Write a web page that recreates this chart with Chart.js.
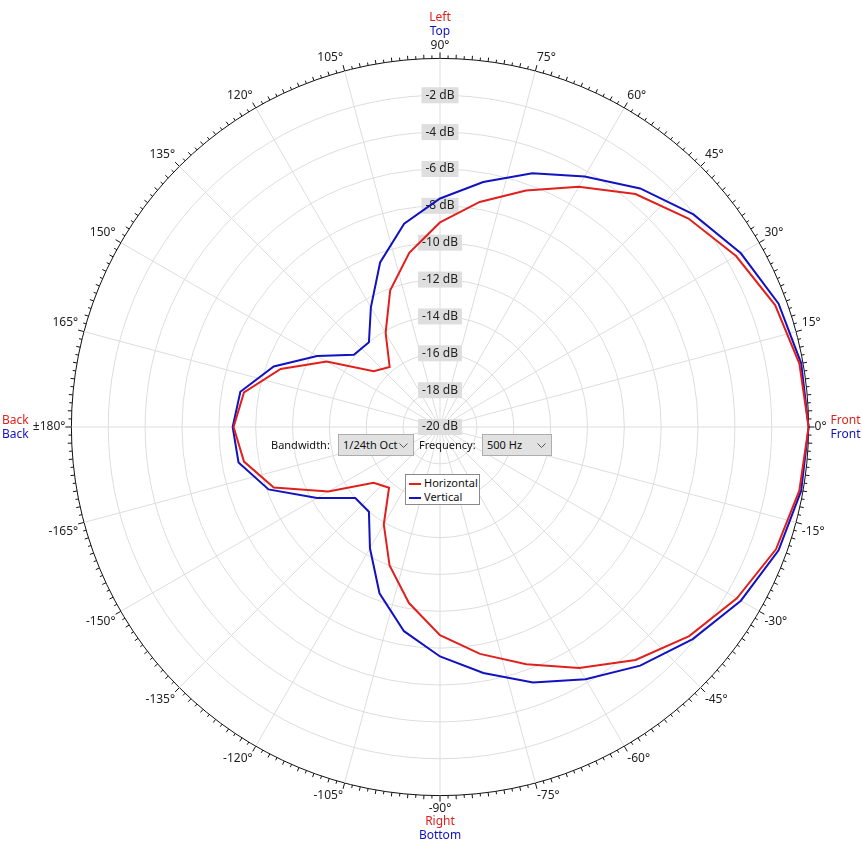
<!DOCTYPE html>
<html>
<head>
<meta charset="utf-8">
<script src="https://cdn.jsdelivr.net/npm/chart.js@4"></script>
<style>
  body { margin: 0; background: #fff; font-family: "Noto Sans", sans-serif; font-size: 11px; color: #111; }
  #wrap { position: relative; width: 862px; height: 846px; }
  .lbl { position: absolute; line-height: 22px; }
  .sel { position: absolute; height: 20px; line-height: 20px; background: #e1e1e1; border: 1px solid #adadad; padding-left: 4px; box-sizing: content-box; white-space: nowrap; }
  .sel svg { position: absolute; right: 5px; top: 8px; }
  #legend { position: absolute; left: 405px; top: 474px; width: 75px; height: 31px; border: 1px solid #8a8a8a; background: #fff; padding: 1px 0 0 3px; box-sizing: border-box; }
  #legend div { height: 14px; line-height: 14px; white-space: nowrap; }
  #legend span { display: inline-block; width: 12px; height: 2px; vertical-align: middle; margin-right: 3px; }
</style>
</head>
<body>
<div id="wrap">
  <canvas id="polar" width="862" height="846"></canvas>
  <div class="lbl" style="left:271px; top:434px;">Bandwidth:</div>
  <div class="sel" style="left:338px; top:434px; width:70px;">1/24th Oct<svg width="9" height="6"><polyline points="0.5,0.5 4.5,4.5 8.5,0.5" fill="none" stroke="#555"/></svg></div>
  <div class="lbl" style="left:419px; top:434px;">Frequency:</div>
  <div class="sel" style="left:482px; top:434px; width:64px;">500 Hz<svg width="9" height="6"><polyline points="0.5,0.5 4.5,4.5 8.5,0.5" fill="none" stroke="#555"/></svg></div>
  <div id="legend"></div>
</div>
<script>
// measured directions, degrees
const measuredAngles = [0, 10, 20, 30, 40, 50, 60, 70, 80, 90, 100, 110, 120, 130, 140, 150, 160, 170, 180,
  -170, -160, -150, -140, -130, -120, -110, -100, -90, -80, -70, -60, -50, -40, -30, -20, -10];

// level in dB for each direction
const horizontal = [0, -0.2, -0.65, -1.45, -2.4, -3.5, -4.95, -6.35, -7.6, -8.9, -10.4, -12.1, -14.1, -15.75, -15.3, -12.9, -10.8, -9.2, -8.8,
  -9.2, -10.4, -13.0, -15.3, -15.7, -13.9, -12.0, -10.3, -8.7, -7.5, -6.3, -4.9, -3.5, -2.35, -1.4, -0.6, -0.2];
const vertical = [0, -0.1, -0.45, -1.15, -2.05, -3.1, -4.3, -5.35, -6.5, -7.6, -8.8, -10.5, -12.5, -14.0, -13.9, -12.3, -10.4, -9.0, -8.75,
  -8.9, -10.1, -12.3, -14.0, -14.0, -12.4, -10.4, -8.75, -7.55, -6.45, -5.25, -4.2, -3.1, -2.1, -1.15, -0.45, -0.1];

const seriesNames = ["Horizontal", "Vertical"];
const seriesColors = ["#e0201c", "#1212c0"];

// labelled directions on the rim
const angleTicks = [90, 75, 60, 45, 30, 15, 0, -15, -30, -45, -60, -75, -90, -105, -120, -135, -150, -165, 180, 165, 150, 135, 120, 105];

// rim words: [angle, first word (red), second word (blue)]
const rimWords = [[90, "Left", "Top"], [-90, "Right", "Bottom"], [0, "Front", "Front"], [180, "Back", "Back"]];

// the scale goes clockwise from the top in 5 degree steps
const scaleAngles = [];
for (let a = 90; a > -270; a -= 5) {
    scaleAngles.push(a <= -180 ? a + 360 : a);
}

function seriesOnScale(values) {
    return scaleAngles.map(a => {
        const i = measuredAngles.indexOf(a);
        return i >= 0 ? values[i] : null;
    });
}

const fontFamily = '"Noto Sans", sans-serif';

const rimPlugin = {
    id: "rim",
    afterDraw(chart) {
        const r = chart.scales.r;
        const ctx = chart.ctx;
        const cx = r.xCenter, cy = r.yCenter, R = r.drawingArea;
        ctx.save();
        // small ticks round the outer circle
        ctx.strokeStyle = "#111";
        ctx.lineWidth = 1;
        ctx.beginPath();
        for (let k = 0; k < 288; k++) {
            const deg = k * 1.25;
            const len = deg % 15 === 0 ? 6 : (k % 2 === 0 ? 4 : 3);
            const t = deg * Math.PI / 180;
            ctx.moveTo(cx + R * Math.cos(t), cy - R * Math.sin(t));
            ctx.lineTo(cx + (R + len) * Math.cos(t), cy - (R + len) * Math.sin(t));
        }
        ctx.stroke();

        ctx.font = "12px " + fontFamily;
        ctx.textBaseline = "middle";
        rimWords.forEach(([a, w1, w2]) => {
            let x = cx, y1, y2;
            ctx.textAlign = "center";
            if (a === 90) { y1 = cy - R - 41; y2 = cy - R - 27; }
            else if (a === -90) { y1 = cy + R + 26; y2 = cy + R + 40; }
            else if (a === 0) { x = cx + R + 22; y1 = cy - 6; y2 = cy + 8; ctx.textAlign = "left"; }
            else { x = 2; y1 = cy - 6; y2 = cy + 8; ctx.textAlign = "left"; }
            ctx.fillStyle = seriesColors[0];
            ctx.fillText(w1, x, y1);
            ctx.fillStyle = seriesColors[1];
            ctx.fillText(w2, x, y2);
        });
        ctx.restore();
    }
};

const chart = new Chart(document.getElementById("polar"), {
    type: "radar",
    data: {
        labels: scaleAngles,
        datasets: [
            {
                label: seriesNames[0],
                data: seriesOnScale(horizontal),
                borderColor: seriesColors[0],
                borderWidth: 2,
                fill: false,
                spanGaps: true,
                pointRadius: 0,
                tension: 0
            },
            {
                label: seriesNames[1],
                data: seriesOnScale(vertical),
                borderColor: seriesColors[1],
                borderWidth: 2,
                fill: false,
                spanGaps: true,
                pointRadius: 0,
                tension: 0
            }
        ]
    },
    options: {
        responsive: false,
        animation: false,
        layout: { padding: { top: 38, bottom: 29, left: 18, right: 0 } },
        plugins: {
            legend: { display: false },
            tooltip: { enabled: false }
        },
        scales: {
            r: {
                min: -20,
                max: 0,
                startAngle: 0,
                grid: {
                    circular: true,
                    color: (c) => c.tick && c.tick.value === 0 ? "#111" : "#dddddd",
                    lineWidth: 1
                },
                angleLines: {
                    color: "#dddddd",
                    lineWidth: (c) => angleTicks.includes(scaleAngles[c.index]) ? 1 : 0
                },
                ticks: {
                    stepSize: 2,
                    color: (c) => c.tick && c.tick.value === 0 ? "rgba(0,0,0,0)" : "#222",
                    font: { family: fontFamily, size: 12 },
                    showLabelBackdrop: true,
                    backdropColor: (c) => c.tick && c.tick.value === 0 ? "rgba(0,0,0,0)" : "#dedede",
                    backdropPadding: { x: 4, y: 2 },
                    callback: (v) => v === 0 ? "" : v + " dB"
                },
                pointLabels: {
                    // chart.js adds half the tick backdrop height, take some of it back
                    padding: -2,
                    color: "#222",
                    font: { family: fontFamily, size: 12 },
                    callback: (a) => {
                        if (!angleTicks.includes(a)) return "";
                        return a === 180 ? "±180°" : a + "°";
                    }
                }
            }
        }
    },
    plugins: [rimPlugin]
});

// legend box in the middle
document.getElementById("legend").innerHTML = chart.data.datasets.map(d =>
    '<div><span style="background:' + d.borderColor + '"></span>' + d.label + '</div>').join("");
</script>
</body>
</html>
